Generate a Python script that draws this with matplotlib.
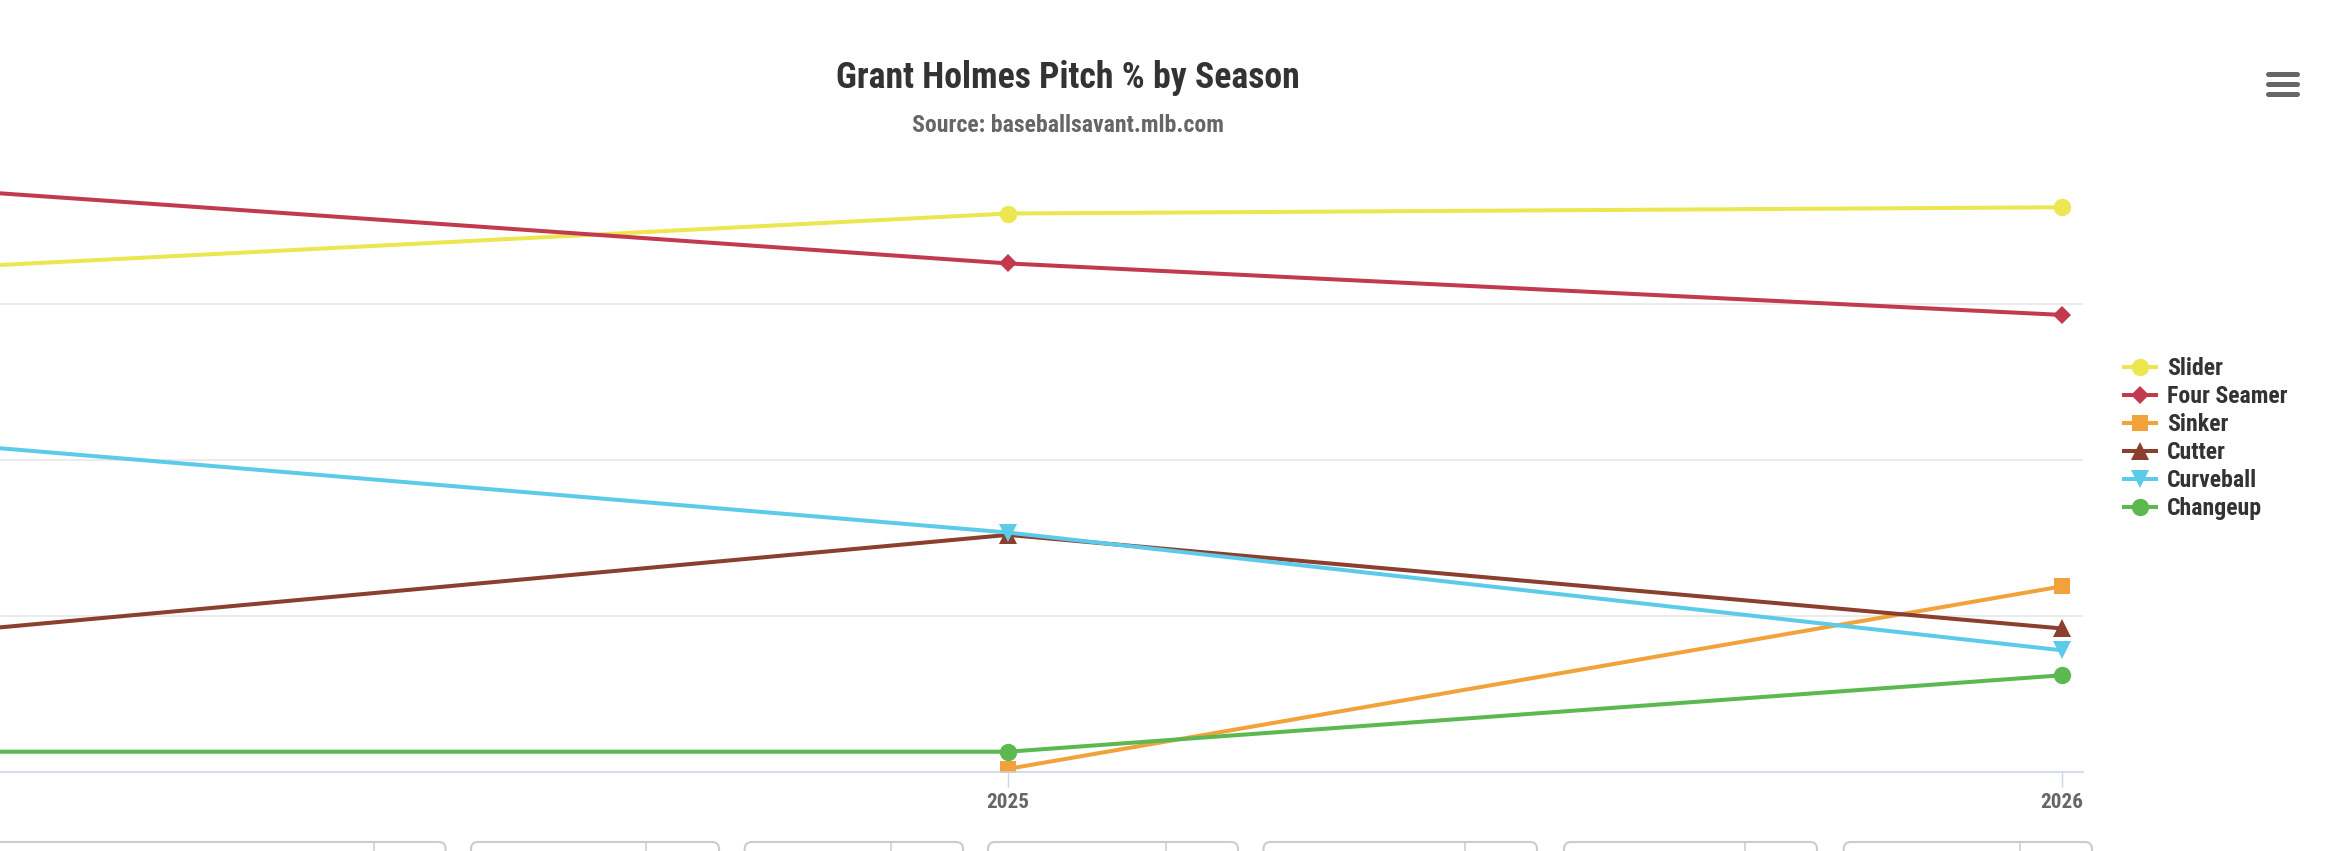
import numpy as np
import matplotlib
matplotlib.use("Agg")
import matplotlib.pyplot as plt
from matplotlib import font_manager
from matplotlib.lines import Line2D
from matplotlib.patches import FancyBboxPatch
from matplotlib.transforms import Affine2D

# values (pitch usage %, by season)
seasons = [2024, 2025, 2026]
pitch_names = ['Slider', 'Four Seamer', 'Sinker', 'Cutter', 'Curveball', 'Changeup']
slider = [32.35, 35.8, 36.2]
four_seamer = [37.3, 32.6, 29.3]
sinker = [np.nan, 0.2, 11.9]
cutter = [9.0, 15.2, 9.2]
curveball = [21.0, 15.35, 7.8]
changeup = [1.3, 1.3, 6.2]
series = [slider, four_seamer, sinker, cutter, curveball, changeup]

colors = ['#ece650', '#c13a4e', '#f2a23a', '#8a3f2f', '#5ccbe9', '#5cb951']
markers = ['o', 'D', 's', '^', 'v', 'o']
msizes = [12.5, 9.5, 11.5, 12.5, 12.5, 12.5]

W, H = 2344, 851
names = set(f.name for f in font_manager.fontManager.ttflist)
FONT, STRETCH = ['DejaVu Sans'], 'condensed'
for cand in ['Roboto Condensed', 'Liberation Sans Narrow', 'Open Sans Condensed']:
    if cand in names:
        FONT, STRETCH = [cand, 'DejaVu Sans'], 'normal'
        break
plt.rcParams['font.family'] = FONT
plt.rcParams['font.stretch'] = STRETCH

fig = plt.figure(figsize=(W / 100, H / 100), dpi=100)
renderer = fig.canvas.get_renderer()
pix = Affine2D().scale(1.0 / W, 1.0 / H) + fig.transFigure


def fit_size(s, width_px, start=20):
    # font size (pt) that makes the bold string s about width_px wide
    t = fig.text(0, 0, s, fontsize=start, fontweight='bold')
    bb = t.get_window_extent(renderer)
    t.remove()
    return start * width_px / bb.width, bb.height * width_px / bb.width


title_size, _ = fit_size('Grant Holmes Pitch % by Season', 464)
sub_size, _ = fit_size('Source: baseballsavant.mlb.com', 312)
leg_size, leg_h = fit_size('Four Seamer', 120)
tick_size, _ = fit_size('2025', 43)

ax = fig.add_axes([0, (H - 772) / H, 2083 / W, 608.4 / H])
for name, vals, c, m, ms in zip(pitch_names, series, colors, markers, msizes):
    ax.plot(seasons, vals, color=c, marker=m, markersize=ms, lw=2.9,
            label=name, markeredgewidth=0)

ax.set_xlim(2025 - 1008 / 1054, 2025 + 1075 / 1054)
ax.set_ylim(0, 39)
ax.set_xticks([2025, 2026])
ax.set_xticklabels(['2025', '2026'])
ax.set_yticks([0, 10, 20, 30])
ax.grid(axis='y', color='#e6e6e6', lw=1.1)
ax.set_axisbelow(True)
for s in ['left', 'right', 'top']:
    ax.spines[s].set_visible(False)
ax.spines['bottom'].set_color('#ccd6eb')
ax.spines['bottom'].set_linewidth(1.1)
ax.tick_params(axis='y', length=0, labelleft=False)
ax.tick_params(axis='x', length=10.8, width=1.0, color='#ccd6eb',
               pad=4.3, labelsize=tick_size, labelcolor='#666666')
for lab in ax.get_xticklabels():
    lab.set_fontweight('bold')

# title and subtitle
fig.text(1068 / W, (H - 88.3) / H, 'Grant Holmes Pitch % by Season',
         ha='center', va='baseline', fontsize=title_size, fontweight='bold',
         color='#333333')
fig.text(1068 / W, (H - 131.7) / H, 'Source: baseballsavant.mlb.com',
         ha='center', va='baseline', fontsize=sub_size, fontweight='bold',
         color='#666666')

# legend on the right, rows 28 px apart
leg_px = leg_size / 0.72
spacing = max((28 - leg_h) / leg_px, 0)
leg = fig.legend(loc='upper left',
                 bbox_to_anchor=(2124 / W, (H - 369 + leg_h / 2) / H),
                 frameon=False, borderpad=0, borderaxespad=0,
                 handlelength=32 / leg_px, handletextpad=11 / leg_px,
                 labelspacing=spacing,
                 prop={'size': leg_size, 'weight': 'bold'})
for t in leg.get_texts():
    t.set_color('#333333')

# menu icon
for yb in [777.3, 767.3, 757.3]:
    fig.add_artist(Line2D([2267.5, 2296.5], [yb, yb], lw=3.6,
                          color='#666666', solid_capstyle='round',
                          transform=pix))

# cut-off buttons under the chart
buttons = [(-40, 445.6, 373.8), (471, 719, 646), (744.7, 963, 891),
           (988, 1238, 1166), (1263.5, 1537, 1465), (1564, 1817, 1745),
           (1843.7, 2092, 2020)]
for x0, x1, xd in buttons:
    fig.add_artist(FancyBboxPatch((x0, -30), x1 - x0, 39,
                                  boxstyle='round,pad=0,rounding_size=7',
                                  fc='none', ec='#cccccc', lw=1.5,
                                  transform=pix))
    fig.add_artist(Line2D([xd, xd], [-30, 9], lw=1.1, color='#cccccc',
                          transform=pix))

fig.savefig('out.png', dpi=100)
